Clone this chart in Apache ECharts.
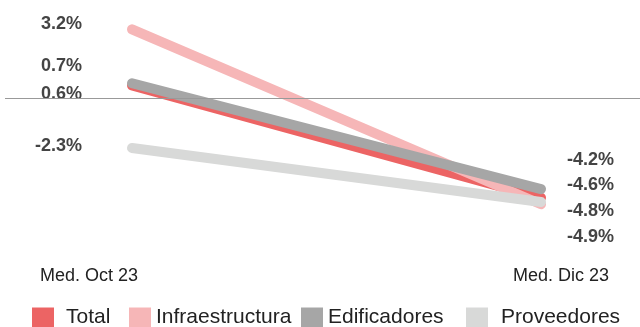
<!DOCTYPE html>
<html>
<head>
<meta charset="utf-8">
<script src="https://cdn.jsdelivr.net/npm/echarts@6/dist/echarts.min.js"></script>
<style>html,body{margin:0;padding:0;background:#fff}#c{width:640px;height:327px}</style>
</head>
<body>
<div id="c"></div>
<script>
// ---- data ----
var categories = ['Med. Oct 23', 'Med. Dic 23'];
var seriesNames = ['Total', 'Infraestructura', 'Edificadores', 'Proveedores'];
var totalValues = [0.6, -4.6];
var infraValues = [3.2, -4.9];
var edifValues = [0.7, -4.2];
var provValues = [-2.3, -4.8];

// ---- styling / layout (not data) ----
var colors = ['#ec6464', '#f6b6b7', '#a6a6a6', '#d8d9d8'];
var leftLabelY = [94, 24, 66, 146];
var rightLabelY = [185, 237, 160, 211];
var legendLeft = [32, 129, 301, 466];
var legendPad = [7, 0, 0, 8];
var FONT = '"Liberation Sans", Arial, sans-serif';

var allValues = [totalValues, infraValues, edifValues, provValues];

var series = seriesNames.map(function (name, si) {
  var s = {
    name: name,
    type: 'line',
    data: allValues[si].map(function (v, i) { return [i, v]; }),
    symbol: 'circle',
    symbolSize: 1,
    itemStyle: { color: colors[si] },
    lineStyle: { width: 10, color: colors[si], cap: 'round' },
    label: {
      show: true,
      formatter: function (p) { return p.value[1].toFixed(1) + '%'; },
      fontFamily: FONT, fontSize: 18, fontWeight: 'bold', color: '#444'
    },
    labelLayout: function (p) {
      if (p.dataIndex === 0) {
        return { x: 82, y: leftLabelY[si], align: 'right', verticalAlign: 'middle' };
      }
      return { x: 614, y: rightLabelY[si], align: 'right', verticalAlign: 'middle' };
    },
    emphasis: { disabled: true },
    z: 2 + si
  };
  if (si === 0) {
    s.markLine = {
      silent: true, symbol: 'none', label: { show: false },
      lineStyle: { color: '#999', width: 1.2, type: 'solid' },
      data: [{ yAxis: 0 }]
    };
  }
  return s;
});

var legends = seriesNames.map(function (name, i) {
  return {
    data: [name],
    left: legendLeft[i], top: 307, padding: 0,
    icon: 'rect', itemWidth: 22, itemHeight: 20,
    textStyle: { fontFamily: FONT, fontSize: 21, color: '#222', padding: [0, 0, 0, legendPad[i]] },
    selectedMode: false
  };
});

var chart = echarts.init(document.getElementById('c'), null, { renderer: 'canvas' });
chart.setOption({
  animation: false,
  backgroundColor: '#fff',
  color: colors,
  legend: legends,
  grid: { left: 5, right: 0, top: 12, bottom: 99, containLabel: false },
  xAxis: {
    type: 'value',
    min: -0.3105, max: 1.242,
    axisLine: { show: false }, axisTick: { show: false }, splitLine: { show: false },
    axisLabel: {
      customValues: [0, 1],
      margin: 39,
      formatter: function (v) {
        return v === 0 ? '{a|' + categories[0] + '}' : '{b|' + categories[1] + '}';
      },
      rich: {
        a: { fontFamily: FONT, fontSize: 18, color: '#222', padding: [0, 86, 0, 0] },
        b: { fontFamily: FONT, fontSize: 18, color: '#222', padding: [0, 0, 0, 40] }
      }
    }
  },
  yAxis: {
    type: 'value', min: -6, max: 4,
    axisLine: { show: false }, axisTick: { show: false },
    axisLabel: { show: false }, splitLine: { show: false }
  },
  series: series
});
</script>
</body>
</html>
